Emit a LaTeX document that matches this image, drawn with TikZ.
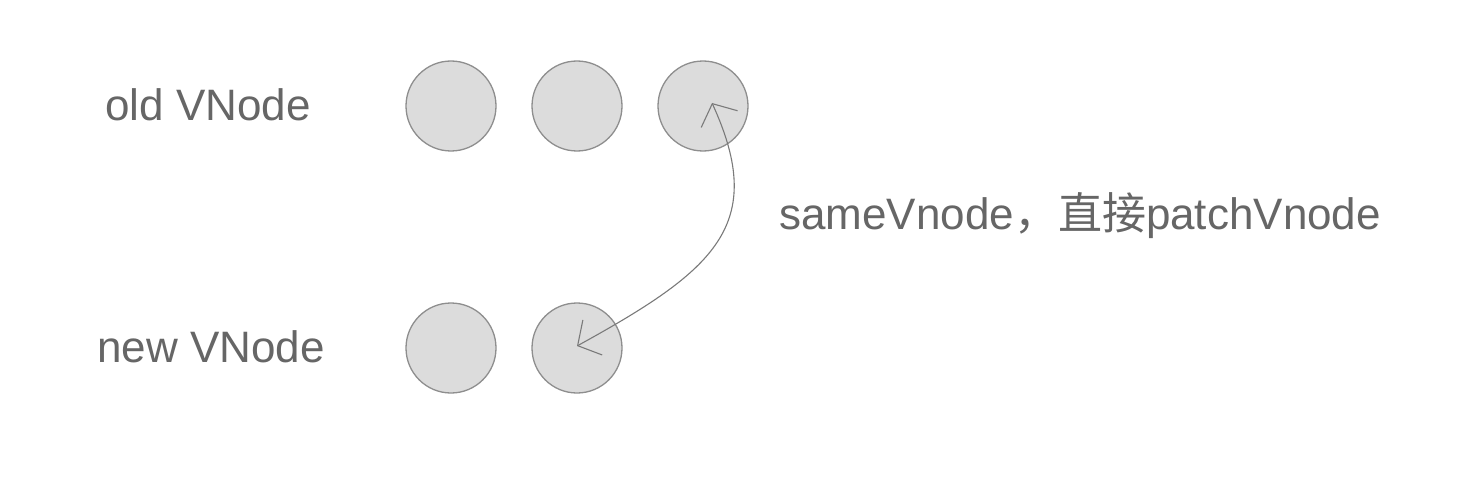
\documentclass[tikz,border=0pt]{standalone}
\usepackage{fontspec}
\setmainfont{Liberation Sans}
\newfontfamily\cjk{Noto Sans CJK SC}
\usetikzlibrary{arrows.meta}
\definecolor{txtgray}{HTML}{666666}
\definecolor{circfill}{HTML}{DCDCDC}
\definecolor{circline}{HTML}{8E8E8E}
\definecolor{arrgray}{HTML}{7A7A7A}
\tikzset{
  vn/.style={circle, draw=circline, fill=circfill, line width=1.3pt, minimum size=90pt, inner sep=0pt},
  lbl/.style={text=txtgray, font=\fontsize{44}{52}\selectfont, inner sep=0pt, anchor=base west},
  conn/.style={draw=arrgray, line width=1.1pt, {Straight Barb[length=17pt,width=40pt]}-{Straight Barb[length=17pt,width=40pt]}}
}
\begin{document}
\begin{tikzpicture}[x=1pt,y=-1pt]
\useasboundingbox[fill=white] (0,0) rectangle (1458,484);
\node[lbl] (oldl) at (105,121) {old VNode};
\node[lbl] (newl) at (97,362) {new VNode};
\node[vn] (o1) at (451,106) {};
\node[vn] (o2) at (577,106) {};
\node[vn] (o3) at (703,106) {};
\node[vn] (n1) at (451,348) {};
\node[vn] (n2) at (577,348) {};
\coordinate (a) at (577,346);
\coordinate (b) at (712,103);
\draw[conn] (a) .. controls (715,270) and (768,225) .. (b);
\node[lbl] (t) at (779,229) {sameVnode{\cjk ，直接}patchVnode};
\end{tikzpicture}
\end{document}
